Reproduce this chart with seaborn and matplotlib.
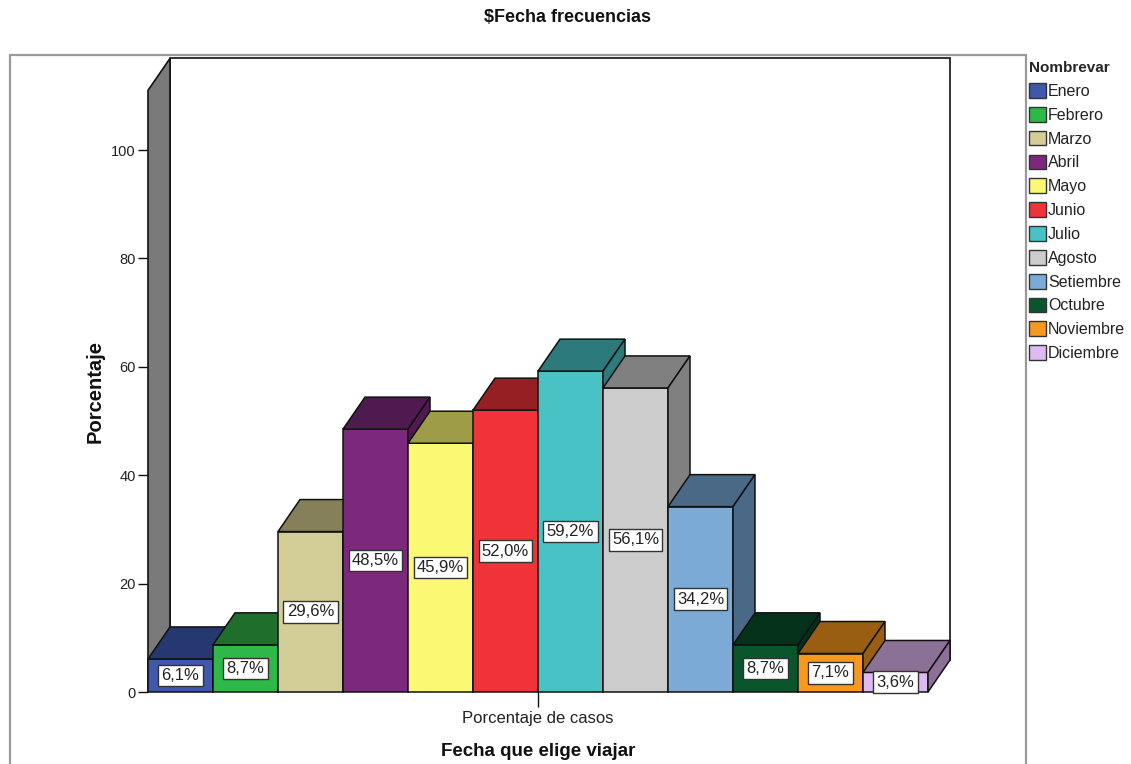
import matplotlib
matplotlib.use("Agg")
import matplotlib.pyplot as plt
import seaborn as sns
import pandas as pd
from matplotlib.patches import Polygon, Rectangle, Patch

months = ["Enero", "Febrero", "Marzo", "Abril", "Mayo", "Junio", "Julio",
          "Agosto", "Setiembre", "Octubre", "Noviembre", "Diciembre"]
values = [6.1, 8.7, 29.6, 48.5, 45.9, 52.0, 59.2, 56.1, 34.2, 8.7, 7.1, 3.6]
category = "Porcentaje de casos"
yticks = [0, 20, 40, 60, 80, 100]
front_colors = ["#3E58AC", "#2EB848", "#D3CE97", "#7C287D", "#FBF873", "#EF3338",
                "#48C2C5", "#CCCCCC", "#7AAAD5", "#0A562C", "#F8981D", "#DDBAF1"]
top_colors = ["#25386F", "#1F6E2C", "#85805A", "#4E1A4F", "#9E9C47", "#951F23",
              "#2C7A7B", "#808080", "#4A6987", "#03311A", "#9A5E12", "#8B7196"]

df = pd.DataFrame({"cat": [category] * len(months), "mes": months, "val": values})

sns.set_style("white")
plt.rcParams["font.family"] = ["Liberation Sans", "DejaVu Sans"]

W, H = 1131, 764
fig = plt.figure(figsize=(W / 100, H / 100), dpi=100)

bar_w_total = 0.96
px_x = 780 / bar_w_total      # pixels per x unit
px_y = 5.42                   # pixels per y unit
dx = 22 / px_x
dy = 32 / px_y
wall_top = 111.0
x_left = -bar_w_total / 2
x_right = bar_w_total / 2 + dx
y_top = wall_top + dy

ax_left_px, ax_bottom_px = 148, 692
ax_w_px = (x_right - x_left) * px_x
ax_h_px = y_top * px_y
ax = fig.add_axes([ax_left_px / W, (H - ax_bottom_px) / H, ax_w_px / W, ax_h_px / H])

pal = dict(zip(months, front_colors))
sns.barplot(data=df, x="cat", y="val", hue="mes", hue_order=months, palette=pal,
            width=bar_w_total, saturation=1, edgecolor="#111111", linewidth=1.1,
            legend=False, ax=ax, errorbar=None)

bars = [b for b in ax.patches if isinstance(b, Rectangle)]
bars = sorted(bars, key=lambda p: p.get_x())

ax.set_xlim(x_left, x_right)
ax.set_ylim(0, y_top)
for s in ax.spines.values():
    s.set_visible(False)

# walls
ax.add_patch(Rectangle((x_left + dx, dy), bar_w_total, wall_top, facecolor="white",
                       edgecolor="#111111", lw=1.2, zorder=0.5, clip_on=False))
ax.add_patch(Polygon([(x_left, 0), (x_left, wall_top), (x_left + dx, y_top), (x_left + dx, dy)],
                     closed=True, facecolor="#7a7a7a", edgecolor="#111111", lw=1.2,
                     zorder=0.6, clip_on=False))

for i, (b, v, tc) in enumerate(zip(bars, values, top_colors)):
    x0 = b.get_x()
    w = b.get_width()
    h = b.get_height()
    z = 3 + i * 3
    b.set_zorder(z)
    b.set_clip_on(False)
    top = Polygon([(x0, h), (x0 + w, h), (x0 + w + dx, h + dy), (x0 + dx, h + dy)],
                  closed=True, facecolor=tc, edgecolor="#111111", lw=1.1, zorder=z + 1,
                  clip_on=False)
    side = Polygon([(x0 + w, 0), (x0 + w, h), (x0 + w + dx, h + dy), (x0 + w + dx, dy)],
                   closed=True, facecolor=tc, edgecolor="#111111", lw=1.1, zorder=z + 2,
                   clip_on=False)
    ax.add_patch(top)
    ax.add_patch(side)
    lab = f"{v:.1f}".replace(".", ",") + "%"
    ax.text(x0 + w / 2, h / 2, lab, ha="center", va="center", fontsize=12,
            color="#222222", zorder=100,
            bbox=dict(boxstyle="square,pad=0.2", facecolor="white",
                      edgecolor="#333333", lw=1))

ax.set_yticks(yticks)
ax.set_yticklabels([str(t) for t in yticks])
ax.tick_params(axis="y", direction="out", length=7, width=1, color="#111111",
               labelsize=10.5, labelcolor="#222222", pad=2, left=True)
ax.tick_params(axis="x", direction="out", length=11, width=1, color="#111111",
               labelsize=12, labelcolor="#222222", pad=3, bottom=True)
ax.set_xlabel("")
ax.set_ylabel("")

fig.text(568 / W, 1 - 18 / H, "$Fecha frecuencias", ha="center", va="center",
         fontsize=13, fontweight="bold", color="#111111")
fig.text(95 / W, 1 - 391 / H, "Porcentaje", ha="center", va="center", rotation=90,
         fontsize=14.5, fontweight="bold", color="#111111")
fig.text(538 / W, 1 - 752 / H, "Fecha que elige viajar", ha="center", va="center",
         fontsize=13.5, fontweight="bold", color="#111111")

# outer frame
fig.add_artist(Rectangle((10 / W, -0.05), 1016 / W, (H - 55) / H + 0.05,
                         transform=fig.transFigure, fill=False, edgecolor="#9a9a9a",
                         lw=1.6, zorder=0))

handles = [Patch(facecolor=c, edgecolor="#333333", lw=1, label=m)
           for m, c in zip(months, front_colors)]
leg = fig.legend(handles=handles, loc="upper left", bbox_to_anchor=(1029 / W, 1 - 61 / H),
                 frameon=False, title="Nombrevar", alignment="left", fontsize=11.5,
                 title_fontproperties={"weight": "bold", "size": 11},
                 handlelength=1.05, handleheight=1.05, handletextpad=0.15,
                 labelspacing=0.5, borderpad=0, borderaxespad=0)
for t in leg.get_texts():
    t.set_color("#222222")

fig.savefig("out.png", dpi=100)
